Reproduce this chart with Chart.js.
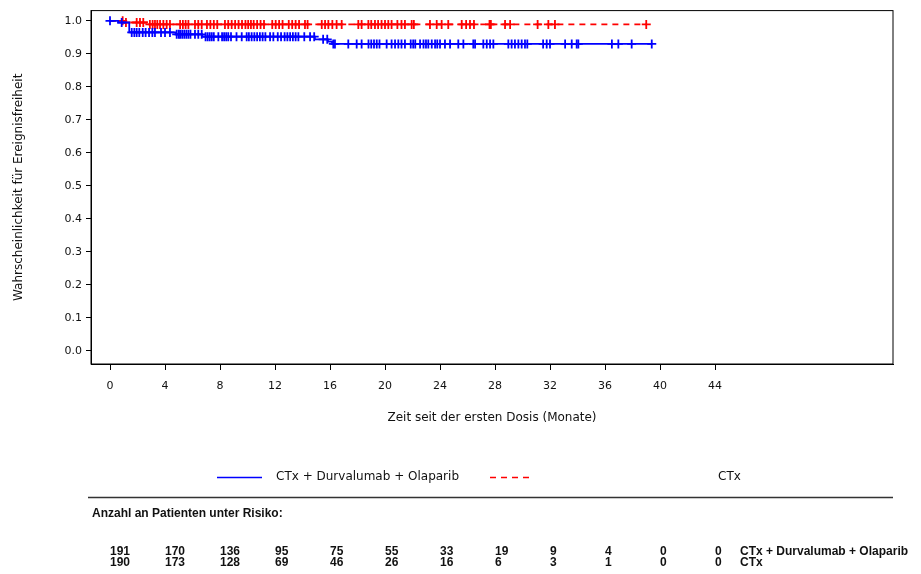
<!DOCTYPE html>
<html>
<head>
<meta charset="utf-8">
<title>Ereignisfreiheit</title>
<script src="https://cdn.jsdelivr.net/npm/chart.js@4.4.1/dist/chart.umd.min.js"></script>
<style>
  html, body { margin: 0; padding: 0; background: #fff; }
  #wrap { position: relative; width: 921px; height: 574px; }
</style>
</head>
<body>
<div id="wrap"><canvas id="km"></canvas></div>
<script>
// axis ticks
const xTicks = [0, 4, 8, 12, 16, 20, 24, 28, 32, 36, 40, 44];
const yTicks = [0.0, 0.1, 0.2, 0.3, 0.4, 0.5, 0.6, 0.7, 0.8, 0.9, 1.0];

const seriesNames = ['CTx + Durvalumab + Olaparib', 'CTx'];

// CTx + Durvalumab + Olaparib: step times (months) and survival after each step
const durvaTimes = [0, 0.6, 1.4, 4.8, 6.7, 14.9, 15.85, 16.15, 39.4];
const durvaSurv = [1.0, 0.995, 0.965, 0.959, 0.952, 0.944, 0.937, 0.930, 0.930];
const durvaCensor = [0.0, 0.85, 1.58, 1.77, 1.94, 2.13, 2.38, 2.59, 2.84, 3.08, 3.27, 3.71, 4.0, 4.36,
  4.85, 5.0, 5.1, 5.25, 5.4, 5.55, 5.7, 5.85, 6.18, 6.42, 6.67, 6.95, 7.1, 7.25, 7.4, 7.55, 7.88,
  8.15, 8.3, 8.45, 8.6, 8.8, 9.2, 9.58, 9.94, 10.1, 10.3, 10.5, 10.7, 10.9, 11.1, 11.3, 11.64, 11.88,
  12.2, 12.44, 12.7, 12.9, 13.1, 13.3, 13.5, 13.7, 14.13, 14.55, 14.85, 15.5, 15.8, 16.24, 16.36,
  17.33, 17.94, 18.3, 18.8, 19.0, 19.2, 19.4, 19.6, 20.12, 20.48, 20.73, 20.97, 21.2, 21.45, 21.87,
  22.05, 22.2, 22.55, 22.8, 22.98, 23.15, 23.4, 23.64, 23.8, 24.0, 24.36, 24.73, 25.33, 25.7, 26.42,
  26.55, 27.15, 27.4, 27.64, 27.88, 28.97, 29.21, 29.45, 29.7, 29.94, 30.18, 30.35, 31.5, 31.76,
  32.0, 33.1, 33.58, 33.94, 34.06, 36.5, 36.97, 37.94, 39.4];

// CTx
const chemoTimes = [0, 1.1, 2.7, 39.0];
const chemoSurv = [1.0, 0.995, 0.989, 0.989];
const chemoCensor = [0.92, 1.16, 1.94, 2.18, 2.42, 2.9, 3.1, 3.27, 3.44, 3.64, 3.88, 4.12, 4.36,
  5.1, 5.3, 5.5, 5.7, 6.18, 6.42, 6.67, 7.05, 7.3, 7.55, 7.8, 8.36, 8.6, 8.85, 9.1, 9.35, 9.6, 9.85,
  10.05, 10.25, 10.45, 10.7, 10.95, 11.2, 11.8, 12.05, 12.3, 12.55, 13.0, 13.25, 13.5, 13.75, 14.18,
  14.37, 15.4, 15.64, 15.88, 16.17, 16.48, 16.85, 18.06, 18.3, 18.79, 19.0, 19.27, 19.5, 19.75, 20.0,
  20.24, 20.48, 20.9, 21.2, 21.45, 21.94, 22.1, 23.27, 23.76, 24.12, 24.6, 25.58, 25.9, 26.18, 26.47,
  27.6, 27.7, 28.73, 29.1, 31.1, 31.88, 32.36, 39.0];

// Anzahl an Patienten unter Risiko (at each x tick)
const durvaAtRisk = [191, 170, 136, 95, 75, 55, 33, 19, 9, 4, 0, 0];
const chemoAtRisk = [190, 173, 128, 69, 46, 26, 16, 6, 3, 1, 0, 0];

const BLUE = '#0000ff';
const RED = '#ff0000';
const TEXT = '#111';
const FONT = '"DejaVu Sans", sans-serif';
const TABLE_FONT = 'bold 12px "Liberation Sans", Arial, sans-serif';

function survivalAt(times, surv, t) {
    let s = surv[0];
    for (let i = 0; i < times.length; i++) {
        if (times[i] <= t) s = surv[i];
    }
    return s;
}

function curvePoints(times, surv) {
    return times.map((t, i) => ({ x: t, y: surv[i] }));
}

function censorPoints(censor, times, surv) {
    return censor.map(t => ({ x: t, y: survivalAt(times, surv, t) }));
}

// box, legend and risk table
const extras = {
    id: 'kmExtras',
    afterDraw(chart) {
        const { ctx, chartArea: a, scales } = chart;
        ctx.save();
        ctx.strokeStyle = '#000';
        ctx.lineWidth = 1;
        ctx.strokeRect(a.left, a.top, a.right - a.left, a.bottom - a.top);

        // legend
        ctx.lineWidth = 1.5;
        ctx.strokeStyle = BLUE;
        ctx.beginPath();
        ctx.moveTo(217, 477.5);
        ctx.lineTo(262, 477.5);
        ctx.stroke();
        ctx.strokeStyle = RED;
        ctx.setLineDash([6, 5]);
        ctx.beginPath();
        ctx.moveTo(490, 477.5);
        ctx.lineTo(529, 477.5);
        ctx.stroke();
        ctx.setLineDash([]);
        ctx.fillStyle = TEXT;
        ctx.font = '12px ' + FONT;
        ctx.textBaseline = 'middle';
        ctx.textAlign = 'left';
        ctx.fillText(seriesNames[0], 276, 477);
        ctx.fillText(seriesNames[1], 718, 477);

        // separator
        ctx.strokeStyle = '#333';
        ctx.lineWidth = 1.5;
        ctx.beginPath();
        ctx.moveTo(88, 497.5);
        ctx.lineTo(893, 497.5);
        ctx.stroke();

        // risk table
        ctx.font = TABLE_FONT;
        ctx.fillText('Anzahl an Patienten unter Risiko:', 92, 514);
        xTicks.forEach((t, i) => {
            const px = scales.x.getPixelForValue(t);
            ctx.fillText(String(durvaAtRisk[i]), px, 552);
            ctx.fillText(String(chemoAtRisk[i]), px, 563);
        });
        ctx.fillText(seriesNames[0], 740, 552);
        ctx.fillText(seriesNames[1], 740, 563);
        ctx.restore();
    }
};

new Chart(document.getElementById('km'), {
    type: 'scatter',
    data: {
        datasets: [
            {
                label: seriesNames[0],
                data: curvePoints(durvaTimes, durvaSurv),
                showLine: true,
                stepped: true,
                borderColor: BLUE,
                borderWidth: 1.8,
                pointRadius: 0
            },
            {
                label: seriesNames[0] + ' zensiert',
                data: censorPoints(durvaCensor, durvaTimes, durvaSurv),
                showLine: false,
                pointStyle: 'cross',
                pointRadius: 4.5,
                pointBorderWidth: 1.8,
                pointBorderColor: BLUE
            },
            {
                label: seriesNames[1],
                data: curvePoints(chemoTimes, chemoSurv),
                showLine: true,
                stepped: true,
                borderColor: RED,
                borderWidth: 1.8,
                borderDash: [6, 5],
                pointRadius: 0
            },
            {
                label: seriesNames[1] + ' zensiert',
                data: censorPoints(chemoCensor, chemoTimes, chemoSurv),
                showLine: false,
                pointStyle: 'cross',
                pointRadius: 4.5,
                pointBorderWidth: 1.8,
                pointBorderColor: RED
            }
        ]
    },
    options: {
        responsive: true,
        maintainAspectRatio: false,
        animation: false,
        layout: { padding: { top: 10, right: 28, bottom: 144, left: 0 } },
        plugins: { legend: { display: false }, tooltip: { enabled: false } },
        scales: {
            x: {
                type: 'linear',
                min: -1.382,
                max: 56.945,
                afterBuildTicks: s => { s.ticks = xTicks.map(v => ({ value: v })); },
                afterFit: s => { s.height = 66; },
                ticks: { color: TEXT, font: { family: FONT, size: 11 }, padding: 10, maxRotation: 0, autoSkip: false },
                grid: { drawOnChartArea: false, drawTicks: true, tickLength: 6, color: '#000' },
                border: { display: true, color: '#000', width: 1 },
                title: {
                    display: true,
                    text: 'Zeit seit der ersten Dosis (Monate)',
                    color: TEXT,
                    font: { family: FONT, size: 12 },
                    padding: { top: 4, bottom: 5 }
                }
            },
            y: {
                type: 'linear',
                min: -0.040,
                max: 1.031,
                afterBuildTicks: s => { s.ticks = yTicks.map(v => ({ value: v })); },
                afterFit: s => { s.width = 91; },
                ticks: { color: TEXT, font: { family: FONT, size: 11 }, padding: 4, callback: v => v.toFixed(1) },
                grid: { drawOnChartArea: false, drawTicks: true, tickLength: 5, color: '#000' },
                border: { display: true, color: '#000', width: 1 },
                title: {
                    display: true,
                    text: 'Wahrscheinlichkeit für Ereignisfreiheit',
                    color: TEXT,
                    font: { family: FONT, size: 12 },
                    padding: { top: 12, bottom: 4 }
                }
            }
        }
    },
    plugins: [extras]
});
</script>
</body>
</html>
